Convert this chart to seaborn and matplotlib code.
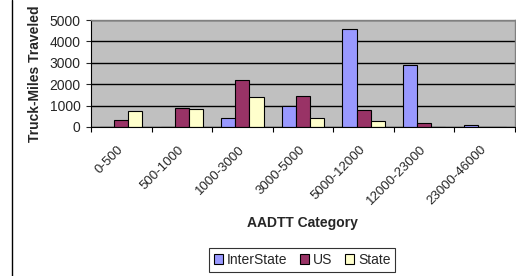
import matplotlib
matplotlib.use("Agg")
import matplotlib.pyplot as plt
import seaborn as sns
import pandas as pd
from matplotlib.lines import Line2D
import numpy as np

categories = ["0-500", "500-1000", "1000-3000", "3000-5000", "5000-12000", "12000-23000", "23000-46000"]
interstate = [0, 0, 400, 1000, 4600, 2900, 80]
us = [330, 900, 2180, 1430, 800, 180, 0]
state = [750, 850, 1380, 400, 300, 0, 0]
series = ["InterState", "US", "State"]
colors = ["#9999FF", "#993366", "#FFFFCC"]

df = pd.DataFrame({
    "AADTT Category": categories * 3,
    "value": interstate + us + state,
    "series": [s for s in series for _ in categories],
})

sns.set_style("white")
plt.rcParams["font.family"] = ["Liberation Sans", "DejaVu Sans"]

fig = plt.figure(figsize=(5.16, 2.76), dpi=100)
ax = fig.add_axes([91/516, 1-127/276, 424/516, 107/276])
ax.set_facecolor("#C0C0C0")

sns.barplot(data=df, x="AADTT Category", y="value", hue="series", order=categories,
            hue_order=series, palette=colors, width=0.7, edgecolor="black",
            linewidth=0.8, ax=ax, saturation=1, legend=True)

ax.set_ylim(0, 5000)
ax.set_xlim(-0.5, len(categories) - 0.5)
ax.set_yticks([0, 1000, 2000, 3000, 4000, 5000])
ax.yaxis.grid(True, color="black", linewidth=1)
ax.set_axisbelow(True)
ax.tick_params(axis="y", labelsize=10, length=3.6, direction="out", left=True, width=0.8, pad=4)
ax.set_xticks(range(len(categories)))
ax.set_xticklabels(categories, rotation=45, ha="right", va="center", rotation_mode="anchor", fontsize=9.5)
ax.tick_params(axis="x", length=0, pad=15)
ax.set_xticks(np.arange(-0.5, len(categories) + 0.5, 1), minor=True)
ax.tick_params(axis="x", which="minor", length=3.6, direction="out", bottom=True, width=0.8, color="black")

for s in ["left", "bottom"]:
    ax.spines[s].set_color("black")
    ax.spines[s].set_linewidth(0.8)
for s in ["top", "right"]:
    ax.spines[s].set_color("#808080")
    ax.spines[s].set_linewidth(1)

ax.set_ylabel("Truck-Miles Traveled", fontsize=10, fontweight="bold")
ax.yaxis.set_label_coords((42 - 91) / 424, 0.5)
ax.set_xlabel("AADTT Category", fontsize=10, fontweight="bold")
ax.xaxis.set_label_coords((302 - 91) / 424, (127 - 223) / 107)
ax.xaxis.label.set_va("center")

leg = ax.legend(loc="center", bbox_to_anchor=(302/516, 1-260/276), bbox_transform=fig.transFigure,
                ncol=3, frameon=True, fancybox=False, fontsize=10, handlelength=0.65,
                handleheight=0.65, handletextpad=0.3, columnspacing=0.9, borderpad=0.35)
leg.get_frame().set_edgecolor("black")
leg.get_frame().set_linewidth(0.8)

fig.add_artist(Line2D([12/516, 12/516], [0, 1], transform=fig.transFigure, color="black", linewidth=1))

fig.savefig("out.png", dpi=100)
